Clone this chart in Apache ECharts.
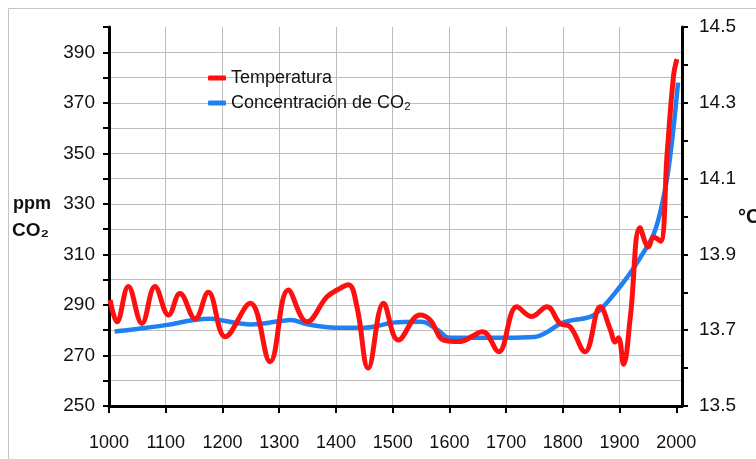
<!DOCTYPE html>
<html>
<head>
<meta charset="utf-8">
<script src="https://cdn.jsdelivr.net/npm/echarts@6/dist/echarts.min.js"></script>
<style>
html,body{margin:0;padding:0;background:#fff;}
#c{width:756px;height:459px;}
</style>
</head>
<body>
<div id="c"></div>
<script>
// CO2 concentration (ppm)
var co2Years  = [1010,1050,1100,1150,1180,1200,1250,1300,1320,1350,1400,1450,1480,1500,1550,1580,1600,1650,1700,1750,1770,1800,1850,1870,1900,1920,1940,1960,1975,1985,1995,2003];
var co2Values = [279.5,280.5,282,284,284.5,283.8,282.3,283.5,284,282.3,281,281,282,283,283.3,280,277,277,277,277.3,279,283,285.5,289,297,303,310,318,330,342,360,378];

// Temperature (°C)
var tempYears  = [1002,1014,1034,1058,1081,1105,1125,1152,1175,1205,1249,1284,1316,1349,1384,1402,1422,1437,1457,1484,1510,1548,1566,1590,1619,1642,1657,1666,1687,1719,1745,1772,1795,1813,1839,1866,1884,1892,1898,1907,1919,1936,1951,1960,1972,1984,1995,2001];
var tempValues = [13.78,13.722,13.815,13.718,13.815,13.74,13.797,13.73,13.80,13.683,13.771,13.617,13.806,13.722,13.788,13.806,13.82,13.762,13.60,13.771,13.674,13.74,13.727,13.674,13.67,13.685,13.696,13.69,13.643,13.762,13.736,13.762,13.718,13.709,13.643,13.762,13.70,13.669,13.68,13.61,13.736,13.97,13.92,13.946,13.935,14.17,14.37,14.415];

// Tick labels
var yearLabels = [1000,1100,1200,1300,1400,1500,1600,1700,1800,1900,2000];
var ppmLabels  = [250,270,290,310,330,350,370,390];
var tempLabels = [13.5,13.7,13.9,14.1,14.3,14.5];

var FONT = "'Liberation Sans', 'DejaVu Sans', sans-serif";

function pairs(xs, ys){ return xs.map(function(x,i){ return [x, ys[i]]; }); }

var chart = echarts.init(document.getElementById('c'), null, {renderer:'canvas'});
chart.setOption({
  animation:false,
  backgroundColor:'#fff',
  grid:{left:109, right:74, top:27, bottom:53, containLabel:false},
  legend:{
    orient:'vertical', left:203, top:63, itemGap:5,
    itemWidth:18, itemHeight:5, icon:'roundRect',
    textStyle:{fontFamily:FONT, fontSize:18, color:'#111', lineHeight:20},
    data:['Temperatura','Concentración de CO₂']
  },
  graphic:[
    {type:'rect', shape:{x:8.5,y:8.5,width:760,height:460}, style:{fill:'none', stroke:'#c4c4c4', lineWidth:1}, silent:true, z:-1},
    {type:'text', left:13, top:195, style:{text:'ppm', font:"bold 18px "+FONT, fill:'#111'}},
    {type:'text', left:12, top:221, style:{text:'CO₂', font:"bold 19px "+FONT, fill:'#111'}},
    {type:'text', left:738, top:207, style:{text:'°C', font:"bold 20px "+FONT, fill:'#111'}}
  ],
  xAxis:{
    type:'value', min:1000, max:2010, interval:100,
    axisLine:{show:true, lineStyle:{color:'#000', width:3}},
    axisTick:{show:true, length:7, lineStyle:{color:'#000', width:2}, customValues:yearLabels},
    axisLabel:{customValues:yearLabels, margin:28, fontFamily:FONT, fontSize:18, color:'#111', formatter:function(v){return String(v);}},
    splitLine:{show:true, showMaxLine:false, lineStyle:{color:'#bdbdbd', width:1}}
  },
  yAxis:[
    {
      type:'value', position:'left', min:250, max:400, interval:10,
      axisLine:{show:true, lineStyle:{color:'#000', width:3}},
      axisTick:{show:true, length:6, lineStyle:{color:'#000', width:2}},
      axisLabel:{customValues:ppmLabels, margin:14, fontFamily:FONT, fontSize:19, color:'#111'},
      splitLine:{show:true, showMaxLine:false, lineStyle:{color:'#bdbdbd', width:1}}
    },
    {
      type:'value', position:'right', min:13.5, max:14.5, interval:0.1,
      axisLine:{show:true, lineStyle:{color:'#000', width:3}},
      axisTick:{show:true, length:6, lineStyle:{color:'#000', width:2}},
      axisLabel:{customValues:tempLabels, margin:17, fontFamily:FONT, fontSize:19, color:'#111', formatter:function(v){return (+v).toFixed(1);}},
      splitLine:{show:false}
    }
  ],
  series:[
    {
      name:'Concentración de CO₂', type:'line', yAxisIndex:0, smooth:0.4, symbol:'none',
      lineStyle:{color:'#1f80f2', width:4.5}, itemStyle:{color:'#1f80f2'},
      data:pairs(co2Years, co2Values), z:2
    },
    {
      name:'Temperatura', type:'line', yAxisIndex:1, smooth:0.4, symbol:'none',
      lineStyle:{color:'#ff1010', width:5}, itemStyle:{color:'#ff1010'},
      data:pairs(tempYears, tempValues), z:3
    }
  ]
});
</script>
</body>
</html>
